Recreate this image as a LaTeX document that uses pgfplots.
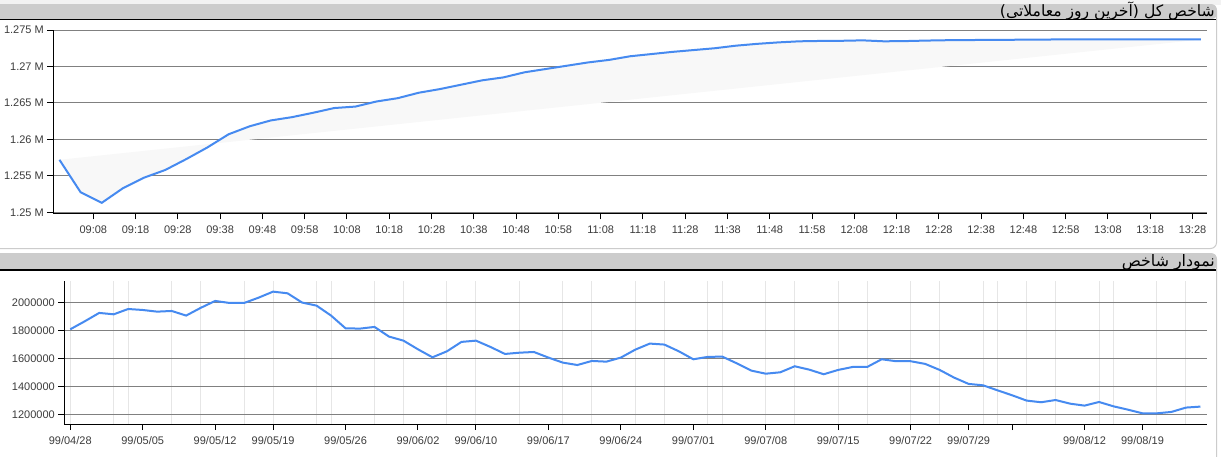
\documentclass[border=0pt]{standalone}
\usepackage{pgfplots}
\pgfplotsset{compat=1.18}
\usepackage{pgfplotstable}
\usepackage{fontspec}
\setmainfont{Liberation Sans}
\newfontfamily\arabicfont[Script=Arabic]{DejaVu Sans}
\TeXXeTstate=1
\definecolor{lineblue}{RGB}{70,138,240}
\definecolor{gridgray}{RGB}{128,128,128}
\definecolor{vgrid}{RGB}{230,230,230}
\definecolor{headgray}{RGB}{204,204,204}
\definecolor{fillgray}{RGB}{248,248,248}
\definecolor{lbl}{RGB}{60,60,60}

\pgfplotstableread{
t v
0 1257200
5 1252750
10 1251300
15 1253300
20 1254750
25 1255800
30 1257300
35 1258900
40 1260700
45 1261800
50 1262600
55 1263050
60 1263650
65 1264300
70 1264500
75 1265200
80 1265650
85 1266400
90 1266900
95 1267500
100 1268100
105 1268500
110 1269200
115 1269650
120 1270100
125 1270550
130 1270900
135 1271400
140 1271700
145 1272000
150 1272250
155 1272500
160 1272850
165 1273100
170 1273300
175 1273450
180 1273500
185 1273520
190 1273580
195 1273450
200 1273480
205 1273550
210 1273600
215 1273620
220 1273650
225 1273660
230 1273680
235 1273700
240 1273700
245 1273700
250 1273700
255 1273700
260 1273700
265 1273700
270 1273700
}\topdata

\pgfplotstableread{
i v
0 1807000
1 1864000
2 1924000
3 1914000
4 1952000
5 1945000
6 1933000
7 1938000
8 1905000
9 1960000
10 2009500
11 1995000
12 1995000
13 2033000
14 2076000
15 2064000
16 1998000
17 1976000
18 1905000
19 1814000
20 1812000
21 1824000
22 1755000
23 1726000
24 1664000
25 1607000
26 1650000
27 1717000
28 1726000
29 1681000
30 1631000
31 1640000
32 1645000
33 1605000
34 1569000
35 1552000
36 1581000
37 1576000
38 1605000
39 1662000
40 1705000
41 1698000
42 1650000
43 1593000
44 1610000
45 1612000
46 1564000
47 1512000
48 1490000
49 1500000
50 1543000
51 1519000
52 1486000
53 1517000
54 1538000
55 1538000
56 1593000
57 1579000
58 1579000
59 1560000
60 1517000
61 1462000
62 1417000
63 1407000
64 1371000
65 1336000
66 1298000
67 1286000
68 1302000
69 1276000
70 1262000
71 1288000
72 1257000
73 1233000
74 1207000
75 1207000
76 1217000
77 1248000
78 1255000
}\bottomdata

\begin{document}
\begin{tikzpicture}[x=1pt,y=1pt]
\useasboundingbox (0,0) rectangle (1221,-456);
\fill[white] (0,0) rectangle (1221,-456);
% top panel frame
\fill[gray!10] (0,0) rectangle (1221,-4.5);
\fill[headgray, rounded corners=4pt] (-10,-4.5) rectangle (1216.5,-19);
\draw[gray!40, line width=1pt, rounded corners=6pt] (-5,-4.5) -- (1216.5,-4.5) -- (1216.5,-248.5) -- (-5,-248.5);
\draw[black, line width=1.6pt] (0,-19.6) -- (1216,-19.6);
\node[anchor=base east, inner sep=0pt, font=\arabicfont\fontsize{15.6}{17}\selectfont] at (1215,-16.5) {\beginR شاخص کل (آخرین روز معاملاتی)\endR};
% bottom panel frame
\fill[headgray, rounded corners=4pt] (-10,-253.5) rectangle (1216.5,-269.5);
\draw[gray!40, line width=1pt, rounded corners=6pt] (-5,-253.5) -- (1216.5,-253.5) -- (1216.5,-470);
\draw[black, line width=1.6pt] (0,-270.2) -- (1216,-270.2);
\node[anchor=base east, inner sep=0pt, font=\arabicfont\fontsize{15.8}{17}\selectfont] at (1215,-266.3) {\beginR نمودار شاخص\endR};

\begin{axis}[
  at={(53.3pt,-213.3pt)}, anchor=south west,
  scale only axis, width=1154pt, height=183.3pt,
  xmin=-1.46, xmax=271.5, ymin=1249863, ymax=1275000,
  scaled y ticks=false, scaled x ticks=false,
  axis lines*=left, axis line style={black, line width=1pt},
  xtick={8,18,...,268},
  xticklabels={09:08,09:18,09:28,09:38,09:48,09:58,10:08,10:18,10:28,10:38,10:48,10:58,11:08,11:18,11:28,11:38,11:48,11:58,12:08,12:18,12:28,12:38,12:48,12:58,13:08,13:18,13:28},
  ytick={1250000,1255000,1260000,1265000,1270000,1275000},
  yticklabels={1.25 M,1.255 M,1.26 M,1.265 M,1.27 M,1.275 M},
  ymajorgrids, major grid style={gridgray, line width=1pt},
  tick align=outside, major tick length=6pt, tick style={black, line width=1pt},
  ticklabel style={font=\fontsize{11}{13}\selectfont, text=lbl},
  xticklabel style={yshift=-3pt},
]
\addplot[fill=fillgray, draw=none] table[x=t, y=v] {\topdata} -- cycle;
\addplot[lineblue, line width=2pt] table[x=t, y=v] {\topdata};
\end{axis}

\begin{axis}[
  at={(64.3pt,-424pt)}, anchor=south west,
  scale only axis, width=1142.4pt, height=143.3pt,
  xmin=-0.41, xmax=78.43, ymin=1130700, ymax=2154000,
  scaled y ticks=false, scaled x ticks=false,
  axis lines*=left, axis line style={black, line width=1pt},
  xtick={0,5,10,14,19,24,28,33,38,43,48,53,58,62,65,70,74},
  xticklabels={99/04/28,99/05/05,99/05/12,99/05/19,99/05/26,99/06/02,99/06/10,99/06/17,99/06/24,99/07/01,99/07/08,99/07/15,99/07/22,99/07/29,{},99/08/12,99/08/19},
  minor xtick={0,3,4,7,9,12,14,17,18,21,23,26,28,31,34,36,39,41,44,45,48,50,53,55,58,60,63,64,66,68,71,72,75,77},
  xminorgrids, minor grid style={vgrid, line width=1pt}, minor tick length=0pt,
  ytick={1200000,1400000,1600000,1800000,2000000},
  yticklabels={1200000,1400000,1600000,1800000,2000000},
  ymajorgrids, major grid style={gridgray, line width=1pt},
  tick align=outside, major tick length=6pt, tick style={black, line width=1pt},
  ticklabel style={font=\fontsize{11}{13}\selectfont, text=lbl},
  xticklabel style={yshift=-3pt},
]
\addplot[lineblue, line width=2pt] table[x=i, y=v] {\bottomdata};
\end{axis}
\end{tikzpicture}
\end{document}
